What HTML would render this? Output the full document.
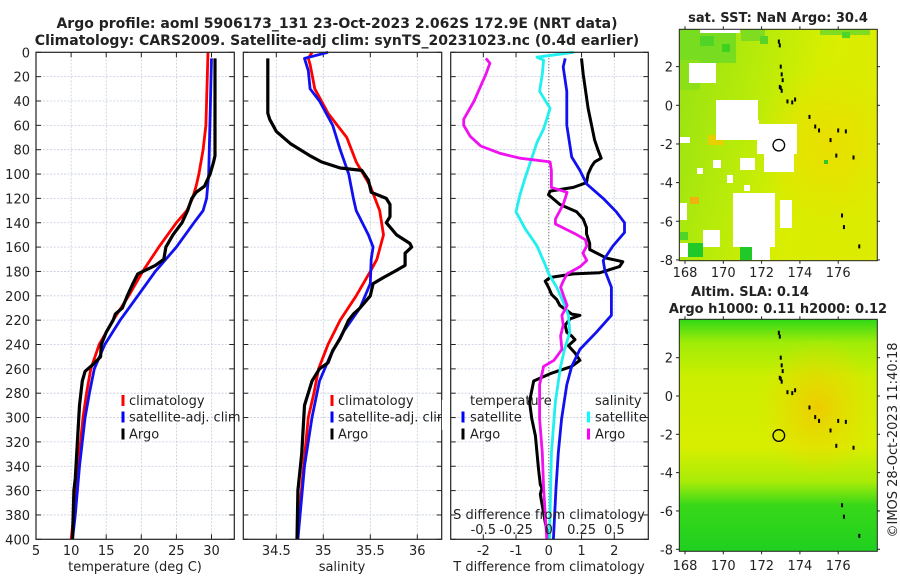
<!DOCTYPE html>
<html><head><meta charset="utf-8"><style>
html,body{margin:0;padding:0;background:#fff;}
svg{display:block;font-family:"DejaVu Sans","Liberation Sans",sans-serif;}
</style></head><body>
<svg id="fig" width="900" height="580" viewBox="0 0 900 580" xmlns="http://www.w3.org/2000/svg">
<defs>
<linearGradient id="m1g" x1="0" y1="0" x2="1" y2="0.3">
<stop offset="0" stop-color="#94e214"/><stop offset="0.45" stop-color="#bcec08"/><stop offset="0.7" stop-color="#d8ee00"/><stop offset="1" stop-color="#dcec00"/>
</linearGradient>
<radialGradient id="m1o" cx="0.75" cy="0.5" r="0.35"><stop offset="0" stop-color="#f0d800" stop-opacity="0.7"/><stop offset="1" stop-color="#f0d800" stop-opacity="0"/></radialGradient>
<linearGradient id="m2g" x1="0" y1="0" x2="0" y2="1">
<stop offset="0" stop-color="#30d818"/><stop offset="0.1" stop-color="#a0ec08"/><stop offset="0.25" stop-color="#ccee00"/><stop offset="0.55" stop-color="#d8ee00"/><stop offset="0.7" stop-color="#a8ec08"/><stop offset="0.8" stop-color="#38d818"/><stop offset="1" stop-color="#20d020"/>
</linearGradient>
<radialGradient id="m2o" cx="0.7" cy="0.38" r="0.3"><stop offset="0" stop-color="#f0c800" stop-opacity="0.9"/><stop offset="1" stop-color="#f0d800" stop-opacity="0"/></radialGradient>
</defs>
<g id="root"></g>
</svg>
<script>
// ---- data ----
var depthTicks = [0,20,40,60,80,100,120,140,160,180,200,220,240,260,280,300,320,340,360,380,400];
var tempTicks = [5,10,15,20,25,30];
var salTicks = [34.5,35,35.5,36];
var tdiffTicks = [-2,-1,0,1,2];
var sdiffTickLabels = ["-0.5","-0.25","0","0.25","0.5"];
var sdiffTicks = [-0.5,-0.25,0,0.25,0.5];
var lonTicks = [168,170,172,174,176];
var latTicks = [2,0,-2,-4,-6,-8];

var climDepthT = [0,20,40,60,80,100,110,120,130,140,160,180,200,220,240,260,280,300,340,380,400];
var climT = [29.5,29.4,29.3,29.2,28.8,28.2,27.8,27.3,26.5,25.0,22.5,20.2,18.2,16.0,14.0,12.8,12.2,11.7,11.0,10.4,10.0];
var satDepthT = [5,100,120,130,140,160,180,200,220,240,260,280,300,340,380,400];
var satT = [30.0,29.6,29.3,28.8,27.5,25.0,22.0,19.5,17.0,14.8,13.3,12.6,12.0,11.2,10.6,10.2];
var argoDepthT = [5,85,90,100,110,115,120,130,140,150,160,170,175,182,190,200,210,215,220,230,240,250,257,262,270,290,320,350,360,400];
var argoT = [30.5,30.5,30.3,29.8,29.0,27.8,27.2,26.6,25.8,24.5,23.5,23.2,22.0,19.5,18.8,18.0,17.3,16.3,16.0,15.0,14.3,14.2,13.0,12.0,11.6,11.2,10.9,10.6,10.4,10.2];

var climDepthS = [0,5,10,30,50,70,90,110,130,150,170,180,200,220,240,260,280,300,340,400];
var climS = [34.88,34.84,34.86,34.91,35.05,35.25,35.35,35.5,35.6,35.64,35.57,35.5,35.35,35.18,35.05,34.95,34.9,34.84,34.79,34.72];
var satDepthS = [0,5,15,30,40,60,80,100,120,130,150,160,170,190,210,230,250,270,300,340,400];
var satS = [35.05,34.8,34.84,34.86,34.96,35.1,35.18,35.27,35.32,35.35,35.48,35.53,35.51,35.5,35.39,35.21,35.07,34.96,34.88,34.8,34.73];
var argoDepthS = [5,50,55,65,75,85,90,95,97,105,115,120,125,135,140,150,157,160,165,175,180,185,190,200,210,215,220,235,245,255,260,270,290,330,360,400];
var argoS = [34.41,34.41,34.43,34.5,34.65,34.86,34.98,35.18,35.41,35.48,35.51,35.67,35.71,35.71,35.67,35.78,35.92,35.94,35.87,35.87,35.76,35.64,35.53,35.5,35.39,35.32,35.27,35.18,35.1,35.05,34.96,34.88,34.8,34.77,34.73,34.72];

var argoTdDepth = [5,18,46,72,80,87,90,94,100,107,111,114,117,125,131,137,144,149,157,162,169,172,176,181,182,185,188,193,199,203,208,212,215,216,219,224,230,233,236,241,247,253,258,264,270,287,301,315,329,343,355,358,363,386,400];
var argoTd = [1.0,1.05,1.2,1.4,1.5,1.6,1.4,1.3,1.2,1.15,0.75,0.04,-0.01,0.34,0.85,1.05,1.15,1.15,1.25,1.25,1.76,2.26,2.16,1.56,0.75,0.04,-0.11,-0.01,0.09,0.24,0.34,0.55,0.7,0.95,0.65,0.5,0.55,0.7,0.8,0.6,0.8,0.95,0.7,0.04,-0.46,-0.59,-0.52,-0.41,-0.36,-0.31,-0.26,-0.21,-0.26,-0.11,0.0];
var satTdDepth = [5,12,32,60,86,97,108,120,131,140,148,159,171,179,193,216,230,244,258,273,301,329,358,400];
var satTd = [0.5,0.44,0.55,0.55,0.7,0.95,1.15,1.66,2.06,2.31,2.31,1.96,1.66,1.71,1.91,1.91,1.45,0.95,0.7,0.55,0.39,0.29,0.22,0.14];
var satSdDepth = [0,4,6.5,18,32,46,63,74,103,117,131,145,159,174,182,193,205,216,230,244,258,287,329,400];
var satSd = [0.19,-0.09,-0.04,-0.05,-0.07,0.01,-0.04,-0.09,-0.18,-0.22,-0.25,-0.18,-0.09,-0.03,0.0,0.06,0.11,0.15,0.16,0.12,0.09,0.05,0.02,0.005];
var argoSdDepth = [5,9,18,40,55,60,69,77,83,87,90,97,111,115,125,137,141,149,154,159,165,171,176,182,188,193,199,208,216,224,233,244,253,258,273,301,329,358,400];
var argoSd = [-0.48,-0.45,-0.48,-0.57,-0.65,-0.65,-0.6,-0.52,-0.37,-0.22,0.01,0.02,0.02,0.14,0.11,0.05,0.05,0.2,0.28,0.29,0.26,0.29,0.24,0.14,0.11,0.09,0.11,0.14,0.1,0.11,0.09,0.1,0.04,-0.04,-0.07,-0.07,-0.05,-0.04,-0.015];

var coastLon = [172.9,172.95,173.0,173.05,173.1,172.95,173.0,173.05,173.35,173.6,173.75,174.5,174.8,175.0,175.6,176.0,176.4,175.9,176.8,176.2,176.3,177.1];
var coastLat = [3.3,3.1,2.0,1.6,1.3,0.95,0.9,0.75,0.2,0.15,0.3,-0.6,-1.1,-1.3,-1.8,-1.3,-1.35,-2.6,-2.7,-5.7,-6.3,-7.3];
var argoLon = 172.9, argoLat = -2.062;

// ---- helpers ----
var NS = "http://www.w3.org/2000/svg";
var root = document.getElementById("root");
function el(tag, attrs, parent, txt) {
  var e = document.createElementNS(NS, tag);
  for (var k in attrs) e.setAttribute(k, attrs[k]);
  if (txt !== undefined) e.textContent = txt;
  (parent || root).appendChild(e);
  return e;
}
var Y0 = 52.3, Y1 = 539.3;
function yD(d) { return Y0 + (d / 400) * (Y1 - Y0); }
function scale(d0, d1, p0, p1) { return function (v) { return p0 + (v - d0) / (d1 - d0) * (p1 - p0); }; }
var xT = scale(5, 30, 36, 211.5);
var xS = scale(34.5, 36, 276.3, 417.3);
var xTd = scale(-2, 2, 483.3, 614.3);
var xSd = scale(-0.5, 0.5, 483.3, 614.3);

function panel(name, L, R) {
  var g = el("g", {});
  
  
  depthTicks.forEach(function (d) {
    if (d > 0 && d < 400) {
      var gl = el("line", {x1: L, x2: R, y1: yD(d), y2: yD(d), stroke: "#c4cce0", "stroke-width": 0.8, "stroke-dasharray": "2,1.5"}, g);
      
      
    }
    el("line", {x1: L, x2: L + 5, y1: yD(d), y2: yD(d), stroke: "#222", "stroke-width": 1}, g);
    el("line", {x1: R, x2: R - 5, y1: yD(d), y2: yD(d), stroke: "#222", "stroke-width": 1}, g);
  });
  return g;
}
function vgrid(g, xs, fx) {
  xs.forEach(function (v) {
    var x = fx(v);
    var gl = el("line", {x1: x, x2: x, y1: Y0, y2: Y1, stroke: "#c4cce0", "stroke-width": 0.8, "stroke-dasharray": "2,1.5"}, g);
    
    
    el("line", {x1: x, x2: x, y1: Y1, y2: Y1 - 5, stroke: "#222"}, g);
    el("line", {x1: x, x2: x, y1: Y0, y2: Y0 + 5, stroke: "#222"}, g);
  });
}
function series(name, depths, vals, fx, color, w) {
  var pts = depths.map(function (d, i) { return fx(vals[i]).toFixed(1) + "," + yD(d).toFixed(1); }).join(" ");
  var p = el("polyline", {points: pts, fill: "none", stroke: color, "stroke-width": w || 2.8, "stroke-linejoin": "round"});
  
  
}
function box(L, R) { el("rect", {x: L, y: Y0, width: R - L, height: Y1 - Y0, fill: "none", stroke: "#222", "stroke-width": 1.2}); }
function txt(x, y, s, opts, name) {
  var a = {x: x, y: y, "font-size": 13, fill: "#222"};
  for (var k in opts || {}) a[k] = opts[k];
  var t = el("text", a, null, s);
  
  
  return t;
}
function legendBar(x, y, color) { el("rect", {x: x - 1.5, y: y - 10, width: 3, height: 11, fill: color}); }

// titles
txt(337, 28, "Argo profile: aoml 5906173_131 23-Oct-2023 2.062S 172.9E (NRT data)", {"text-anchor": "middle", "font-weight": "bold", "font-size": 14}, "title-line-1");
txt(337, 45, "Climatology: CARS2009. Satellite-adj clim: synTS_20231023.nc (0.4d earlier)", {"text-anchor": "middle", "font-weight": "bold", "font-size": 14}, "title-line-2");

// depth tick labels
depthTicks.forEach(function (d) { txt(30, yD(d) + 5, String(d), {"text-anchor": "end"}, "depth-tick-label"); });

// panel 1
var g1 = panel("temperature-panel", 36, 234.3);
vgrid(g1, tempTicks.slice(1), xT);
tempTicks.forEach(function (v) { txt(xT(v), 555, String(v), {"text-anchor": "middle"}, "temp-tick-label"); });
txt(135, 571, "temperature (deg C)", {"text-anchor": "middle"}, "x-axis-title-temperature");
txt(129, 405, "climatology", {}, "legend-entry"); legendBar(123, 405, "#f00");
txt(129, 421.5, "satellite-adj. clim", {}, "legend-entry"); legendBar(123, 421.5, "#00f");
txt(129, 438.5, "Argo", {}, "legend-entry"); legendBar(123, 438.5, "#000");
series("temp-climatology-line", climDepthT, climT, xT, "#f00");
series("temp-satellite-line", satDepthT, satT, xT, "#1010f0");
series("temp-argo-line", argoDepthT, argoT, xT, "#000", 3.2);
box(36, 234.3);

// panel 2
var g2 = panel("salinity-panel", 243.3, 441.7);
vgrid(g2, salTicks, xS);
salTicks.forEach(function (v) { txt(xS(v), 555, String(v), {"text-anchor": "middle"}, "sal-tick-label"); });
txt(342, 571, "salinity", {"text-anchor": "middle"}, "x-axis-title-salinity");
txt(338, 405, "climatology", {}, "legend-entry"); legendBar(332, 405, "#f00");
txt(338, 421.5, "satellite-adj. clim", {}, "legend-entry"); legendBar(332, 421.5, "#00f");
txt(338, 438.5, "Argo", {}, "legend-entry"); legendBar(332, 438.5, "#000");
series("sal-climatology-line", climDepthS, climS, xS, "#f00");
series("sal-satellite-line", satDepthS, satS, xS, "#1010f0");
series("sal-argo-line", argoDepthS, argoS, xS, "#000", 3.2);
box(243.3, 441.7);
el("rect", {x: 441.9, y: 400, width: 8, height: 30, fill: "#fff"});

// panel 3
var g3 = panel("difference-panel", 450.7, 648.3);
vgrid(g3, [-2, -1, 1, 2], xTd);
el("line", {x1: xTd(0), x2: xTd(0), y1: Y0, y2: Y1, stroke: "#444", "stroke-width": 1, "stroke-dasharray": "1,2"});
tdiffTicks.forEach(function (v) { txt(xTd(v), 555, String(v), {"text-anchor": "middle"}, "tdiff-tick-label"); });
txt(549, 571, "T difference from climatology", {"text-anchor": "middle"}, "x-axis-title-tdiff");
txt(470, 405, "temperature", {}, "legend-title-temperature");
txt(470, 421.5, "satellite", {}, "legend-entry"); legendBar(463, 421.5, "#00f");
txt(470, 438.5, "Argo", {}, "legend-entry"); legendBar(463, 438.5, "#000");
txt(595, 405, "salinity", {}, "legend-title-salinity");
txt(595, 421.5, "satellite", {}, "legend-entry"); legendBar(588.5, 421.5, "#0ff");
txt(595, 438.5, "Argo", {}, "legend-entry"); legendBar(588.5, 438.5, "#f0f");
series("tdiff-argo-line", argoTdDepth, argoTd, xTd, "#000", 3);
series("tdiff-satellite-line", satTdDepth, satTd, xTd, "#1010f0");
series("sdiff-satellite-line", satSdDepth, satSd, xSd, "#20f0f0");
series("sdiff-argo-line", argoSdDepth, argoSd, xSd, "#f010f0");
txt(549, 519, "S difference from climatology", {"text-anchor": "middle"}, "sdiff-axis-title");
sdiffTicks.forEach(function (v, i) { txt(xSd(v), 534, sdiffTickLabels[i], {"text-anchor": "middle"}, "sdiff-tick-label"); });
box(450.7, 648.3);

// ---- maps ----
function lonX(l) { return 685 + (l - 168) * 19.15; }
function lat1Y(a) { return 105.3 - a * 19.33; }
function lat2Y(a) { return 396 - a * 19.16; }
function mapFrame(name) {
  var g = el("g", {});
  
  
  return g;
}
// map 1
var mg1 = mapFrame("sst-map");
el("rect", {x: 679.3, y: 29.3, width: 198, height: 231.4, fill: "url(#m1g)"}, mg1);
el("rect", {x: 679.3, y: 29.3, width: 198, height: 231.4, fill: "url(#m1o)"}, mg1);
var greens = [[680,29,56,34,"#78dc20"],[700,36,14,10,"#50d428"],[722,44,8,8,"#40d020"],[741,29,24,12,"#80dc20"],[760,36,8,8,"#58d428"],[820,29,50,6,"#80dc20"],[842,32,8,6,"#50d428"],[680,60,20,30,"#8ce018"],[687,243,16,14,"#20c828"],[740,244,14,16,"#20c828"],[680,232,8,8,"#50d428"],[776,150,4,4,"#30c828"],[824,160,4,4,"#30c828"]];
greens.forEach(function (r) { el("rect", {x: r[0], y: r[1], width: r[2], height: r[3], fill: r[4]}, mg1); });
var oranges = [[690,197,9,7,"#f0b010"],[708,135,16,10,"#e8d000"],[742,133,10,6,"#e8d800"]];
oranges.forEach(function (r) { el("rect", {x: r[0], y: r[1], width: r[2], height: r[3], fill: r[4]}, mg1); });
var whites = [[689,63,27,20],[700,29,40,4],[716,100,42,40],[741,120,18,10],[757,124,40,30],[764,148,30,24],[680,137,10,6],[740,158,15,12],[733,193,42,54],[680,203,7,17],[680,243,8,14],[703,230,17,17],[752,233,18,27],[780,200,12,28],[713,160,8,8],[727,175,6,8],[744,185,6,6],[697,168,6,6]];
whites.forEach(function (r) { el("rect", {x: r[0], y: r[1], width: r[2], height: r[3], fill: "#fff"}, mg1); });
el("rect", {x: 679.3, y: 29.3, width: 198, height: 231.4, fill: "none", stroke: "#222", "stroke-width": 1}, mg1);
// map 2
var mg2 = mapFrame("sla-map");
el("rect", {x: 679.3, y: 319.3, width: 198, height: 232, fill: "url(#m2g)"}, mg2);
el("rect", {x: 679.3, y: 319.3, width: 198, height: 232, fill: "url(#m2o)"}, mg2);
el("rect", {x: 679.3, y: 319.3, width: 198, height: 232, fill: "none", stroke: "#222", "stroke-width": 1}, mg2);

[[lat1Y, 29.3, 260.7, 272], [lat2Y, 319.3, 551.3, 565]].forEach(function (m) {
  var fy = m[0];
  latTicks.forEach(function (a) {
    var y = fy(a);
    el("line", {x1: 679.3, x2: 676, y1: y, y2: y, stroke: "#222"});
    el("line", {x1: 877.3, x2: 880, y1: y, y2: y, stroke: "#222"});
    txt(673, y + 5, String(a), {"text-anchor": "end"}, "lat-tick-label");
  });
  lonTicks.forEach(function (l) {
    var x = lonX(l);
    el("line", {x1: x, x2: x, y1: m[2], y2: m[2] + 3, stroke: "#222"});
    el("line", {x1: x, x2: x, y1: m[1], y2: m[1] - 3, stroke: "#222"});
    txt(x, m[3] + 5, String(l), {"text-anchor": "middle"}, "lon-tick-label");
  });
  coastLon.forEach(function (l, i) {
    var c = el("rect", {x: lonX(l) - 1, y: fy(coastLat[i]) - 2, width: 2, height: 4, fill: "#000"});
    
    
  });
  var pc = el("circle", {cx: lonX(argoLon), cy: fy(argoLat), r: 5.8, fill: "none", stroke: "#000", "stroke-width": 1.3});
  
  
});
txt(778, 22, "sat. SST: NaN Argo: 30.4", {"text-anchor": "middle", "font-weight": "bold"}, "sst-map-title");
txt(750, 296, "Altim. SLA: 0.14", {"text-anchor": "middle", "font-weight": "bold"}, "sla-map-title");
txt(778, 313, "Argo h1000: 0.11 h2000: 0.12", {"text-anchor": "middle", "font-weight": "bold"}, "sla-map-subtitle");
txt(0, 0, "\u00a9IMOS 28-Oct-2023 11:40:18", {"text-anchor": "middle", transform: "translate(897,440) rotate(-90)"}, "credit-timestamp");
</script>
</body></html>
